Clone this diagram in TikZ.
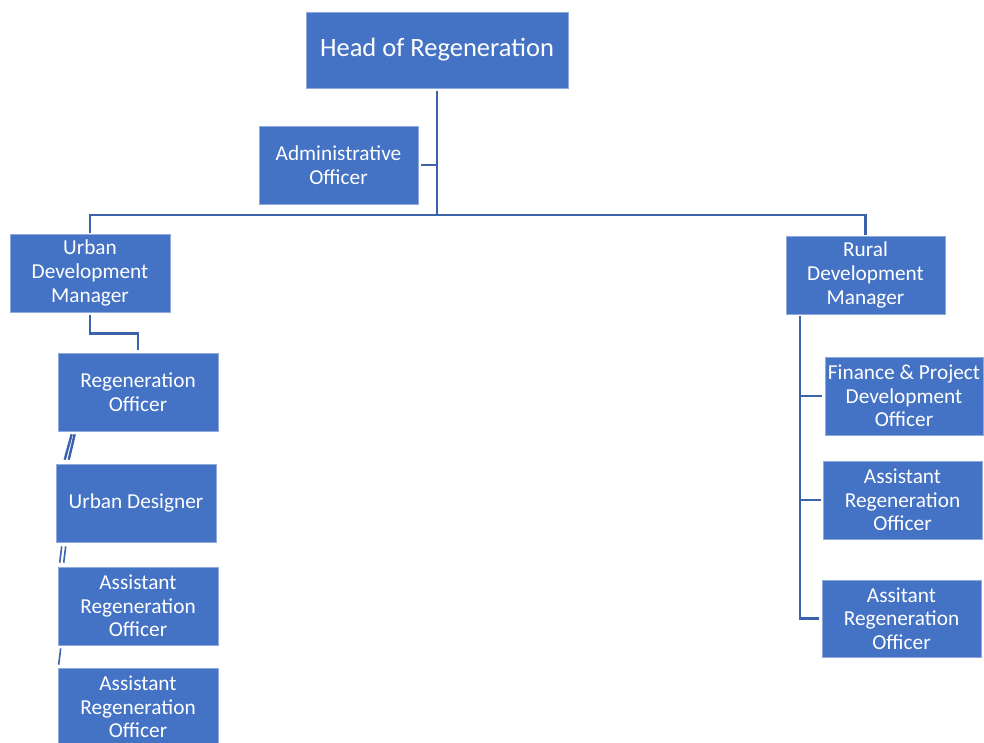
\documentclass[tikz,border=0pt]{standalone}
\usepackage{fontspec}
\setmainfont{Carlito}
\usepackage{xcolor}
\usepackage{tikz}
\definecolor{boxblue}{HTML}{4472C4}
\definecolor{boxedge}{HTML}{8FAADC}
\definecolor{linkblue}{HTML}{3C62AC}

\begin{document}
\begin{tikzpicture}[x=1pt,y=-1pt,
  post/.style={fill=boxblue,draw=boxedge,line width=0.6pt,text=white,
    minimum width=160pt,minimum height=78pt,align=center,inner sep=0pt,
    font=\fontsize{21.3}{23.6}\selectfont},
  link/.style={linkblue,line width=2.4pt}]
  \useasboundingbox (0,0) rectangle (984,743);
  % top of the chart
  \node[post,minimum width=262pt,minimum height=76pt,font=\fontsize{26.5}{30}\selectfont] (head) at (437,50) {Head of Regeneration};
  \node[post,minimum width=159pt] (admin) at (338.5,165) {Administrative\\Officer};
  \node[post] (urban) at (90,273) {Urban\\Development\\Manager};
  \node[post,minimum width=159pt] (rural) at (865.5,275) {Rural\\Development\\Manager};
  \coordinate (bar) at (437,215);
  % urban branch
  \node[post] (regoff) at (138,392) {Regeneration\\Officer};
  \node[post] (designer) at (136,503) {Urban Designer};
  \node[post] (asstA) at (138,606) {Assistant\\Regeneration\\Officer};
  \node[post] (asstB) at (138,707) {Assistant\\Regeneration\\Officer};
  % rural branch
  \node[post,minimum width=158pt] (finance) at (904,396) {Finance \& Project\\Development\\Officer};
  \node[post,minimum width=159pt] (asstR1) at (902.5,500) {Assistant\\Regeneration\\Officer};
  \node[post,minimum width=159pt,minimum height=77pt] (asstR2) at (901.5,618.5) {Assitant\\Regeneration\\Officer};
  \coordinate (spine) at (800,316);

  \draw[link] ([yshift=-3pt]head.south) -- (bar);
  \draw[link] ([xshift=3pt]admin.east) -- (admin.east -| bar);
  \draw[link] ([yshift=1pt]urban.north) |- (bar) -| ([yshift=1pt]rural.north);
  \draw[link] ([yshift=-3pt]urban.south) -- ++(0,18) -| ([yshift=3pt]regoff.north);
  \draw[link] ([shift={(14,3)}]regoff.south west) -- ([shift={(9,-4)}]designer.north west);
  \draw[link] ([shift={(17,3)}]regoff.south west) -- ([shift={(13,-4)}]designer.north west);
  \draw[link,line width=1.6pt] ([shift={(6,4)}]designer.south west) -- ([shift={(2,-4)}]asstA.north west);
  \draw[link,line width=1.6pt] ([shift={(10,4)}]designer.south west) -- ([shift={(6,-4)}]asstA.north west);
  \draw[link,line width=1.6pt] ([shift={(3,3)}]asstA.south west) -- ([shift={(1,-3)}]asstB.north west);
  \draw[link] (spine) |- ([xshift=-3pt]asstR2.west);
  \draw[link] (spine |- finance.west) -- ([xshift=-3pt]finance.west);
  \draw[link] (spine |- asstR1.west) -- ([xshift=-2pt]asstR1.west);
\end{tikzpicture}
\end{document}
